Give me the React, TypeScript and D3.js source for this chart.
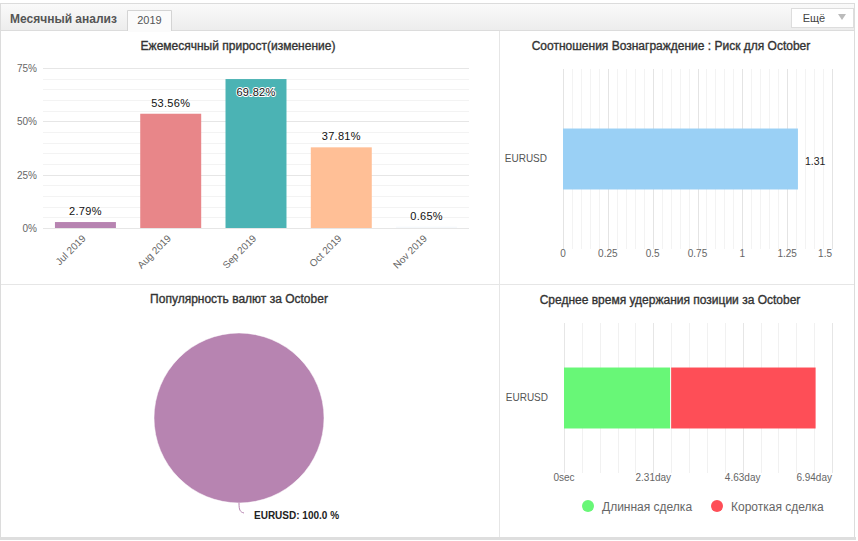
import React, { useEffect, useRef } from 'react';
import * as d3 from 'd3';

// помесячный прирост
const months = ["Jul 2019", "Aug 2019", "Sep 2019", "Oct 2019", "Nov 2019"];
const growth = [2.79, 53.56, 69.82, 37.81, 0.65];
const growthTicks = [0, 25, 50, 75];
const growthColors = ["#b784b1", "#e88689", "#4bb3b4", "#ffbf96", "#f6f9fc"];

// вознаграждение / риск
const rrSymbols = ["EURUSD"];
const rrValues = [1.31];
const rrTicks = [0, 0.25, 0.5, 0.75, 1, 1.25, 1.5];

// популярность валют
const popSymbols = ["EURUSD"];
const popShares = [100];

// среднее время удержания, сек
const holdSymbols = ["EURUSD"];
const holdLong = [237600];
const holdShort = [325700];
const holdTicks = [0, 200000, 400000, 600000];
const holdTickLabels = ["0sec", "2.31day", "4.63day", "6.94day"];
const holdSeries = ["Длинная сделка", "Короткая сделка"];
const holdColors = ["#68f777", "#fe4e57"];

const W = 858, H = 541;
const FONT = "'Liberation Sans', Arial, sans-serif";

export default function App() {
  const ref = useRef<SVGSVGElement>(null);

  useEffect(() => {
    const svg = d3.select(ref.current);
    svg.selectAll("*").remove();

    // рамка и шапка
    const grad = svg.append("defs").append("linearGradient")
      .attr("id", "hdr").attr("x1", 0).attr("y1", 0).attr("x2", 0).attr("y2", 1);
    grad.append("stop").attr("offset", "0%").attr("stop-color", "#fafafa");
    grad.append("stop").attr("offset", "100%").attr("stop-color", "#ececec");

    svg.append("rect").attr("x", 0.5).attr("y", 3.5).attr("width", 854).attr("height", 534)
      .attr("fill", "#fff").attr("stroke", "#dcdcdc");
    svg.append("rect").attr("x", 1).attr("y", 4).attr("width", 853).attr("height", 27)
      .attr("fill", "url(#hdr)");
    svg.append("line").attr("x1", 0).attr("x2", 855).attr("y1", 30.5).attr("y2", 30.5).attr("stroke", "#dcdcdc");
    svg.append("rect").attr("x", 0).attr("y", 537).attr("width", 856).attr("height", 3).attr("fill", "#dedede");

    svg.append("text").attr("x", 10).attr("y", 23).text("Месячный анализ")
      .attr("font-family", FONT).attr("font-size", 12).attr("font-weight", "bold").attr("fill", "#555");
    svg.append("path").attr("d", "M127.5,31 V10.5 H171.5 V31").attr("fill", "#fbfbfb").attr("stroke", "#d4d4d4");
    svg.append("rect").attr("x", 128).attr("y", 29).attr("width", 43).attr("height", 3).attr("fill", "#fbfbfb");
    svg.append("text").attr("x", 149.5).attr("y", 24).attr("text-anchor", "middle").text("2019")
      .attr("font-family", FONT).attr("font-size", 11).attr("fill", "#555");

    svg.append("rect").attr("x", 791.5).attr("y", 8.5).attr("width", 62).attr("height", 19)
      .attr("fill", "#fff").attr("stroke", "#dddddd");
    svg.append("text").attr("x", 814).attr("y", 22).attr("text-anchor", "middle").text("Ещё")
      .attr("font-family", FONT).attr("font-size", 11).attr("fill", "#444");
    svg.append("path").attr("d", "M838,14 L846,14 L842,20 Z").attr("fill", "#bbb");

    // разделители панелей
    svg.append("line").attr("x1", 499.5).attr("x2", 499.5).attr("y1", 31).attr("y2", 537).attr("stroke", "#e6e6e6");
    svg.append("line").attr("x1", 1).attr("x2", 854).attr("y1", 284.5).attr("y2", 284.5).attr("stroke", "#e6e6e6");

    const title = (x: number, y: number, t: string) =>
      svg.append("text").attr("x", x).attr("y", y).attr("text-anchor", "middle").text(t)
        .attr("font-family", FONT).attr("font-size", 12).attr("fill", "#333")
        .attr("stroke", "#333").attr("stroke-width", 0.35);

    // 1. Ежемесячный прирост
    title(238, 50, "Ежемесячный прирост(изменение)");
    const x1 = d3.scaleBand().domain(months).range([43, 469]).paddingInner(0.285).paddingOuter(0.14);
    const y1 = d3.scaleLinear().domain([0, 75]).range([228, 68]);
    const g1 = svg.append("g");
    g1.selectAll(".minor").data(d3.range(0, 76, 5)).enter().append("line")
      .attr("x1", 43).attr("x2", 469)
      .attr("y1", d => Math.round(y1(d)) + 0.5).attr("y2", d => Math.round(y1(d)) + 0.5)
      .attr("stroke", d => d % 25 === 0 ? "#e6e6e6" : "#f3f3f3");
    g1.selectAll(".yl").data(growthTicks).enter().append("text")
      .attr("x", 37).attr("y", d => y1(d) + 4).attr("text-anchor", "end")
      .text(d => d + "%").attr("font-family", FONT).attr("font-size", 10).attr("fill", "#666");
    g1.selectAll(".bar").data(growth).enter().append("rect")
      .attr("x", (d, i) => x1(months[i])!).attr("width", x1.bandwidth())
      .attr("y", d => y1(d)).attr("height", d => y1(0) - y1(d))
      .attr("fill", (d, i) => growthColors[i]);
    g1.selectAll(".val").data(growth).enter().append("text")
      .attr("x", (d, i) => x1(months[i])! + x1.bandwidth() / 2)
      .attr("y", d => y1(d) - 7 < 80 ? y1(d) + 17 : y1(d) - 7)
      .attr("text-anchor", "middle").text(d => d.toFixed(2) + "%")
      .attr("font-family", FONT).attr("font-size", 11).attr("letter-spacing", 0.3).attr("fill", "#111")
      .attr("stroke", d => y1(d) - 7 < 80 ? "#fff" : "none").attr("stroke-width", 2)
      .attr("paint-order", "stroke");
    g1.selectAll(".xl").data(months).enter().append("text")
      .attr("transform", d => `translate(${x1(d)! + x1.bandwidth() / 2 + 1},${239}) rotate(-45)`)
      .attr("text-anchor", "end").text(d => d)
      .attr("font-family", FONT).attr("font-size", 10).attr("fill", "#666");

    // 2. Вознаграждение : риск
    title(671, 50, "Соотношения Вознаграждение : Риск для October");
    const x2 = d3.scaleLinear().domain([0, 1.5]).range([563, 832]);
    const y2 = d3.scaleBand().domain(rrSymbols).range([69, 249]).padding(0.494);
    const g2 = svg.append("g");
    g2.selectAll(".grid").data(d3.range(0, 31).map(i => i * 0.05)).enter().append("line")
      .attr("x1", d => Math.round(x2(d)) + 0.5).attr("x2", d => Math.round(x2(d)) + 0.5)
      .attr("y1", 69).attr("y2", 249)
      .attr("stroke", (d, i) => i % 5 === 0 ? "#e4e4e4" : "#f3f3f3");
    g2.selectAll(".bar").data(rrValues).enter().append("rect")
      .attr("x", x2(0)).attr("y", (d, i) => y2(rrSymbols[i])!)
      .attr("width", d => x2(d) - x2(0)).attr("height", y2.bandwidth())
      .attr("fill", "#9ad0f5");
    g2.selectAll(".val").data(rrValues).enter().append("text")
      .attr("x", d => x2(d) + 7).attr("y", (d, i) => y2(rrSymbols[i])! + y2.bandwidth() / 2 + 6)
      .text(d => d.toFixed(2)).attr("font-family", FONT).attr("font-size", 10.5).attr("fill", "#222");
    g2.selectAll(".yl").data(rrSymbols).enter().append("text")
      .attr("x", 547).attr("y", d => y2(d)! + y2.bandwidth() / 2 + 3).attr("text-anchor", "end")
      .text(d => d).attr("font-family", FONT).attr("font-size", 10).attr("fill", "#555");
    g2.selectAll(".xl").data(rrTicks).enter().append("text")
      .attr("x", d => x2(d)).attr("y", 257)
      .attr("text-anchor", (d, i) => i === rrTicks.length - 1 ? "end" : "middle")
      .text(d => String(d)).attr("font-family", FONT).attr("font-size", 10).attr("fill", "#666");

    // 3. Популярность валют
    title(239, 303, "Популярность валют за October");
    const pie = d3.pie<number>().sort(null).value(d => d);
    const arc = d3.arc<d3.PieArcDatum<number>>().innerRadius(0).outerRadius(85);
    const g3 = svg.append("g").attr("transform", "translate(239,418)");
    g3.selectAll(".slice").data(pie(popShares)).enter().append("path")
      .attr("d", arc).attr("fill", "#b784b1").attr("stroke", "#fff").attr("stroke-width", 0.5);
    g3.append("path").attr("d", "M0,85 C0,92 1,94 5,95").attr("fill", "none").attr("stroke", "#b784b1");
    g3.append("text").attr("x", 15).attr("y", 101)
      .text(`${popSymbols[0]}: ${popShares[0].toFixed(1)} %`)
      .attr("font-family", FONT).attr("font-size", 10).attr("font-weight", "bold").attr("fill", "#222");

    // 4. Среднее время удержания
    title(670, 304, "Среднее время удержания позиции за October");
    const x4 = d3.scaleLinear().domain([0, 600000]).range([564, 832]);
    const y4 = d3.scaleBand().domain(holdSymbols).range([323, 473]).padding(0.422);
    const g4 = svg.append("g");
    g4.selectAll(".grid").data(d3.range(0, 16).map(i => i * 40000)).enter().append("line")
      .attr("x1", d => Math.round(x4(d)) + 0.5).attr("x2", d => Math.round(x4(d)) + 0.5)
      .attr("y1", 323).attr("y2", 473)
      .attr("stroke", (d, i) => i % 5 === 0 ? "#e6e6e6" : "#f1f1f1");
    const stack = holdSymbols.map((s, i) => [holdLong[i], holdShort[i]]);
    stack.forEach((vals, i) => {
      let acc = 0;
      vals.forEach((v, k) => {
        g4.append("rect").attr("x", x4(acc) + (k > 0 ? 1 : 0)).attr("y", y4(holdSymbols[i])!)
          .attr("width", x4(acc + v) - x4(acc) - (k > 0 ? 1 : 0)).attr("height", y4.bandwidth())
          .attr("fill", holdColors[k]);
        acc += v;
      });
    });
    g4.selectAll(".yl").data(holdSymbols).enter().append("text")
      .attr("x", 548).attr("y", d => y4(d)! + y4.bandwidth() / 2 + 3).attr("text-anchor", "end")
      .text(d => d).attr("font-family", FONT).attr("font-size", 10).attr("fill", "#555");
    g4.selectAll(".xl").data(holdTicks).enter().append("text")
      .attr("x", d => x4(d)).attr("y", 481)
      .attr("text-anchor", (d, i) => i === holdTicks.length - 1 ? "end" : "middle")
      .text((d, i) => holdTickLabels[i]).attr("font-family", FONT).attr("font-size", 10).attr("fill", "#666");
    const legX = [588, 717];
    holdSeries.forEach((s, k) => {
      g4.append("circle").attr("cx", legX[k]).attr("cy", 506).attr("r", 6).attr("fill", holdColors[k]);
      g4.append("text").attr("x", legX[k] + 14).attr("y", 510.5).text(s)
        .attr("font-family", FONT).attr("font-size", 12).attr("fill", "#666");
    });
  }, []);

  return (
    <svg ref={ref} width={W} height={H}
      style={{ position: "absolute", left: 0, top: 0, background: "#fff" }} />
  );
}
